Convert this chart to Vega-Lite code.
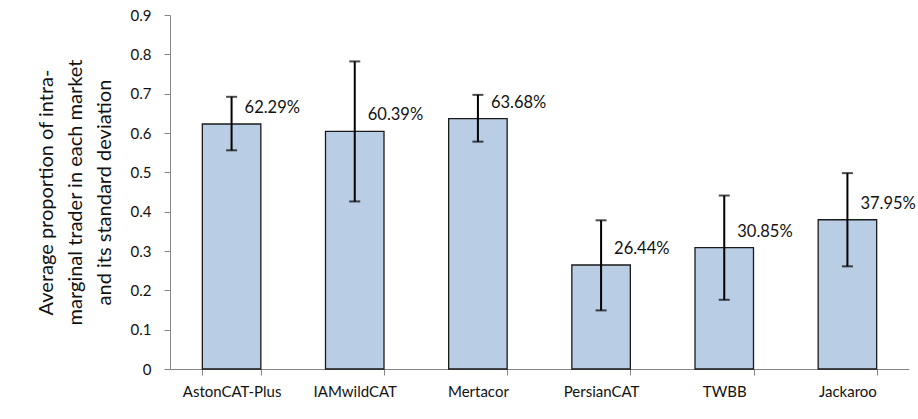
{
  "$schema": "https://vega.github.io/schema/vega-lite/v6.json",
  "autosize": "none",
  "width": 739,
  "height": 354,
  "padding": {"left": 170, "top": 15, "right": 9, "bottom": 50},
  "background": "white",
  "config": {
    "view": {"stroke": null},
    "font": "Lato",
    "axisY": {
      "labelOverlap": false,
      "labelExpr": "datum.value == 0 ? '0' : format(datum.value, '.1f')",
      "grid": false, "domainColor": "#868686", "tickColor": "#868686",
      "tickSize": 6, "labelPadding": 13, "labelFontSize": 15, "labelColor": "#111111",
      "titleFontSize": 20, "titleFontWeight": "normal", "titleColor": "#111111",
      "titleLineHeight": 29, "titlePadding": 16, "titleFont": "Lato"
    }
  },
  "data": {"values": [
    {"market": "AstonCAT-Plus", "mean": 0.6229, "lo": 0.556, "hi": 0.692, "label": "62.29%"},
    {"market": "IAMwildCAT", "mean": 0.6039, "lo": 0.426, "hi": 0.782, "label": "60.39%"},
    {"market": "Mertacor", "mean": 0.6368, "lo": 0.578, "hi": 0.697, "label": "63.68%"},
    {"market": "PersianCAT", "mean": 0.2644, "lo": 0.149, "hi": 0.378, "label": "26.44%"},
    {"market": "TWBB", "mean": 0.3085, "lo": 0.176, "hi": 0.441, "label": "30.85%"},
    {"market": "Jackaroo", "mean": 0.3795, "lo": 0.261, "hi": 0.498, "label": "37.95%"}
  ]},
  "encoding": {
    "x": {
      "field": "market", "type": "nominal", "sort": null,
      "scale": {"paddingInner": 0.525, "paddingOuter": 0.2625},
      "axis": {
        "title": null, "labelAngle": 0, "labelFontSize": 15, "labelColor": "#111111",
        "labelPadding": 9, "domainColor": "#868686", "tickColor": "#868686",
        "tickSize": 6, "tickBand": "extent", "labelFont": "Lato"
      }
    }
  },
  "layer": [
    {
      "mark": {"type": "bar", "fill": "#B9CDE5", "stroke": "#1a1a1a", "strokeWidth": 1.3},
      "encoding": {
        "y": {
          "field": "mean", "type": "quantitative",
          "scale": {"domain": [0, 0.9], "nice": false},
          "axis": {
            "values": [0, 0.1, 0.2, 0.3, 0.4, 0.5, 0.6, 0.7, 0.8, 0.9],
            "title": ["Average proportion of intra-", "marginal trader in each market", "and its standard deviation"]
          }
        }
      }
    },
    {
      "mark": {"type": "rule", "color": "#000000", "strokeWidth": 2},
      "encoding": {
        "y": {"field": "lo", "type": "quantitative", "axis": {
            "values": [0, 0.1, 0.2, 0.3, 0.4, 0.5, 0.6, 0.7, 0.8, 0.9],
            "title": ["Average proportion of intra-", "marginal trader in each market", "and its standard deviation"]
          }},
        "y2": {"field": "hi"}
      }
    },
    {
      "mark": {"type": "tick", "color": "#000000", "thickness": 2, "size": 11, "orient": "horizontal"},
      "encoding": {"y": {"field": "lo", "type": "quantitative", "axis": {
            "values": [0, 0.1, 0.2, 0.3, 0.4, 0.5, 0.6, 0.7, 0.8, 0.9],
            "title": ["Average proportion of intra-", "marginal trader in each market", "and its standard deviation"]
          }}}
    },
    {
      "mark": {"type": "tick", "color": "#000000", "thickness": 2, "size": 11, "orient": "horizontal"},
      "encoding": {"y": {"field": "hi", "type": "quantitative", "axis": {
            "values": [0, 0.1, 0.2, 0.3, 0.4, 0.5, 0.6, 0.7, 0.8, 0.9],
            "title": ["Average proportion of intra-", "marginal trader in each market", "and its standard deviation"]
          }}}
    },
    {
      "mark": {"type": "text", "align": "left", "baseline": "middle", "dx": 13, "dy": -16, "fontSize": 16.5, "color": "#111111", "font": "Lato"},
      "encoding": {
        "y": {"field": "mean", "type": "quantitative", "axis": {
            "values": [0, 0.1, 0.2, 0.3, 0.4, 0.5, 0.6, 0.7, 0.8, 0.9],
            "title": ["Average proportion of intra-", "marginal trader in each market", "and its standard deviation"]
          }},
        "text": {"field": "label"}
      }
    }
  ]
}
